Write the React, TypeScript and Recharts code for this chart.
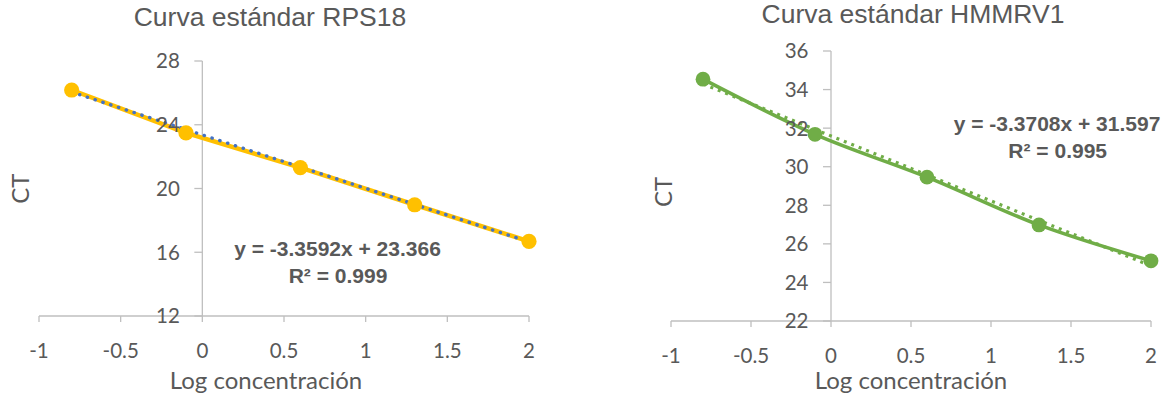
import React from "react";
import { ComposedChart, Line, XAxis, YAxis, ReferenceLine, ReferenceDot } from "recharts";

// ---- data ----
const logConc = [-0.8, -0.1, 0.6, 1.3, 2.0];
const rps18Ct = [26.18, 23.49, 21.31, 18.98, 16.68];
const hmmrCt = [34.54, 31.68, 29.46, 26.98, 25.12];

const trendX = [-0.8, 2.0];
const rps18TrendCt = [26.05, 16.65];
const hmmrTrendCt = [34.29, 24.86];

const xTicks = [-1, -0.5, 0, 0.5, 1, 1.5, 2];
const rps18YTicks = [12, 16, 20, 24, 28];
const hmmrYTicks = [22, 24, 26, 28, 30, 32, 34, 36];

const titles = ["Curva estándar RPS18", "Curva estándar HMMRV1"];
const xTitle = "Log concentración";
const yTitle = "CT";
const rps18Eq = ["y = -3.3592x + 23.366", "R² = 0.999"];
const hmmrEq = ["y = -3.3708x + 31.597", "R² = 0.995"];

const rows = (xs: number[], ys: number[]) => xs.map((x, i) => ({ x, ct: ys[i] }));

const TEXT = "#595959";
const AXIS = "#BFBFBF";
const TICK_FONT = "Lato, 'Open Sans', sans-serif";
const TITLE_FONT = "'Liberation Sans', Arial, sans-serif";

function yTickShape(value: number) {
  return (p: any) => (
    <g>
      <line x1={p.cx - 8} x2={p.cx} y1={p.cy} y2={p.cy} stroke={AXIS} strokeWidth={1.3} />
      <text
        x={p.cx - 22.5}
        y={p.cy}
        dy="0.36em"
        textAnchor="end"
        fontFamily={TICK_FONT}
        fontSize={20.5}
        fill={TEXT}
      >
        {value}
      </text>
    </g>
  );
}

interface PanelProps {
  left: number;
  margin: { top: number; right: number; bottom: number; left: number };
  yDomain: [number, number];
  yTicks: number[];
  series: { x: number; ct: number }[];
  trend: { x: number; ct: number }[];
  color: string;
  lineWidth: number;
  markerR: number;
  lineType: "linear" | "monotone";
  trendColor: string;
  trendWidth: number;
  trendDash: string;
  trendCap: "round" | "butt";
}

function Panel(props: PanelProps) {
  return (
    <div style={{ position: "absolute", left: props.left, top: 0 }}>
      <ComposedChart width={580} height={394} margin={props.margin} style={{ overflow: "visible" }}>
        <XAxis
          type="number"
          dataKey="x"
          domain={[-1, 2]}
          ticks={xTicks}
          interval={0}
          height={50}
          tickSize={6}
          tickMargin={21}
          axisLine={{ stroke: AXIS, strokeWidth: 1.3 }}
          tickLine={{ stroke: AXIS, strokeWidth: 1.3 }}
          tick={{ fill: TEXT, fontSize: 20.5, fontFamily: TICK_FONT }}
        />
        <YAxis type="number" hide domain={props.yDomain} ticks={props.yTicks} />
        <ReferenceLine x={0} stroke={AXIS} strokeWidth={1.3} />
        {props.yTicks.map((t) => (
          <ReferenceDot key={t} x={0} y={t} r={1} shape={yTickShape(t)} ifOverflow="visible" />
        ))}
        <Line
          data={props.series}
          dataKey="ct"
          type={props.lineType}
          stroke={props.color}
          strokeWidth={props.lineWidth}
          dot={{ r: props.markerR, fill: props.color, stroke: props.color, strokeWidth: 0 }}
          activeDot={false}
          isAnimationActive={false}
        />
        <Line
          data={props.trend}
          dataKey="ct"
          type="linear"
          stroke={props.trendColor}
          strokeWidth={props.trendWidth}
          strokeDasharray={props.trendDash}
          strokeLinecap={props.trendCap}
          dot={false}
          activeDot={false}
          isAnimationActive={false}
        />
      </ComposedChart>
    </div>
  );
}

export default function App() {
  return (
    <div style={{ position: "absolute", left: 0, top: 0, width: 1169, height: 394, background: "#fff", overflow: "hidden" }}>
      <Panel
        left={0}
        margin={{ top: 61, right: 51, bottom: 28, left: 39 }}
        yDomain={[12, 28]}
        yTicks={rps18YTicks}
        series={rows(logConc, rps18Ct)}
        trend={rows(trendX, rps18TrendCt)}
        color="#FFC000"
        lineWidth={4.5}
        markerR={7.6}
        lineType="linear"
        trendColor="#4472C4"
        trendWidth={3.4}
        trendDash="0.3 7.9"
        trendCap="round"
      />
      <Panel
        left={589}
        margin={{ top: 51, right: 18, bottom: 23, left: 82 }}
        yDomain={[22, 36]}
        yTicks={hmmrYTicks}
        series={rows(logConc, hmmrCt)}
        trend={rows(trendX, hmmrTrendCt)}
        color="#70AD47"
        lineWidth={3.5}
        markerR={7.4}
        lineType="monotone"
        trendColor="#70AD47"
        trendWidth={3.2}
        trendDash="3 5"
        trendCap="butt"
      />
      <svg
        width={1169}
        height={394}
        style={{ position: "absolute", left: 0, top: 0, pointerEvents: "none" }}
      >
        <text x={270} y={26} textAnchor="middle" fontFamily={TITLE_FONT} fontSize={26.5} fill={TEXT}>
          {titles[0]}
        </text>
        <text x={913} y={23} textAnchor="middle" fontFamily={TITLE_FONT} fontSize={26.5} fill={TEXT}>
          {titles[1]}
        </text>
        <text x={266} y={388.5} textAnchor="middle" fontFamily={TICK_FONT} fontSize={24} fill={TEXT}>
          {xTitle}
        </text>
        <text x={911} y={389} textAnchor="middle" fontFamily={TICK_FONT} fontSize={24} fill={TEXT}>
          {xTitle}
        </text>
        <text transform="translate(28.6,188.7) rotate(-90)" textAnchor="middle" fontFamily={TICK_FONT} fontSize={24} fill={TEXT}>
          {yTitle}
        </text>
        <text transform="translate(671.6,192) rotate(-90)" textAnchor="middle" fontFamily={TICK_FONT} fontSize={24} fill={TEXT}>
          {yTitle}
        </text>
        <text x={337.5} y={256} textAnchor="middle" fontFamily={TITLE_FONT} fontWeight="bold" fontSize={21} fill={TEXT}>
          {rps18Eq[0]}
        </text>
        <text x={338} y={283.3} textAnchor="middle" fontFamily={TITLE_FONT} fontWeight="bold" fontSize={21} fill={TEXT}>
          {rps18Eq[1]}
        </text>
        <text x={1057} y={131} textAnchor="middle" fontFamily={TITLE_FONT} fontWeight="bold" fontSize={21} fill={TEXT}>
          {hmmrEq[0]}
        </text>
        <text x={1057.7} y={158.3} textAnchor="middle" fontFamily={TITLE_FONT} fontWeight="bold" fontSize={21} fill={TEXT}>
          {hmmrEq[1]}
        </text>
      </svg>
    </div>
  );
}
